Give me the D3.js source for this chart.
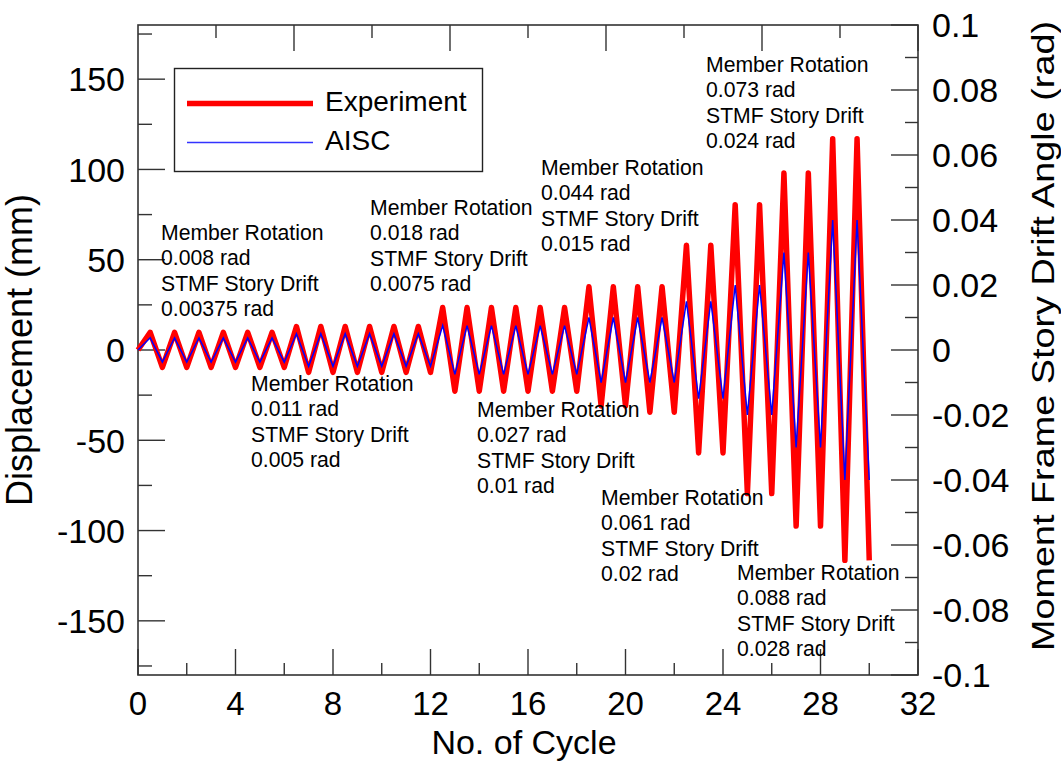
<!DOCTYPE html>
<html>
<head>
<meta charset="utf-8">
<script src="https://cdn.jsdelivr.net/npm/d3@7"></script>
<style>
  html, body { margin: 0; padding: 0; background: #fff; }
  svg { display: block; }
  text { font-family: "Liberation Sans", Arial, sans-serif; fill: #000; }
</style>
</head>
<body>
<svg id="chart" width="1061" height="768"></svg>
<script>
// ---- data ----
const cycles = [1,2,3,4,5,6,7,8,9,10,11,12,13,14,15,16,17,18,19,20,21,22,23,24,25,26,27,28,29,30];
const expPeak   = [9.8,9.8,9.8,9.8,9.8,9.8, 13,13,13,13,13,13, 23.5,23.5,23.5,23.5,23.5,23.5, 35,35,35,35, 58,58, 80.5,80.5, 98,98, 117,117];
const expTrough = [-9.6,-9.6,-9.6,-9.6,-9.6,-9.6, -12.4,-12.4,-12.4,-12.4,-12.4,-12.4, -22.8,-22.8,-22.8,-22.8,-22.8,-22.8, -31,-31,-34.5,-34.5, -57,-57, -79.5,-79.5, -97.5,-97.5, -116.5,-116.5];
const aiscPeak   = [6.75,6.75,6.75,6.75,6.75,6.75, 9,9,9,9,9,9, 13.5,13.5,13.5,13.5,13.5,13.5, 18,18,18,18, 27,27, 36,36, 54,54, 72,72];
const aiscTrough = [-6.75,-6.75,-6.75,-6.75,-6.75,-6.75, -9,-9,-9,-9,-9,-9, -13.5,-13.5,-13.5,-13.5,-13.5,-13.5, -18,-18,-18,-18, -27,-27, -36,-36, -54,-54, -72,-72];

const xTicks = [0,4,8,12,16,20,24,28,32];
const xMinorTicks = [2,6,10,14,18,22,26,30];
const yTicks = [-150,-100,-50,0,50,100,150];
const yMinorTicks = [-175,-125,-75,-25,25,75,125,175];
const rTicks = [-0.1,-0.08,-0.06,-0.04,-0.02,0,0.02,0.04,0.06,0.08,0.1];
const rTickLabels = ["-0.1","-0.08","-0.06","-0.04","-0.02","0","0.02","0.04","0.06","0.08","0.1"];
const rMinorTicks = [-0.09,-0.07,-0.05,-0.03,-0.01,0.01,0.03,0.05,0.07,0.09];
const topTicks = [2,4,6,8,10];
const topMinorTicks = [1,3,5,7,9];

const seriesNames = ["Experiment", "AISC"];
const annotations = [
  { lines: ["Member Rotation","0.008 rad","STMF Story Drift","0.00375 rad"], x: 161, y: 240 },
  { lines: ["Member Rotation","0.011 rad","STMF Story Drift","0.005 rad"], x: 251, y: 391 },
  { lines: ["Member Rotation","0.018 rad","STMF Story Drift","0.0075 rad"], x: 370, y: 215 },
  { lines: ["Member Rotation","0.027 rad","STMF Story Drift","0.01 rad"], x: 477, y: 417 },
  { lines: ["Member Rotation","0.044 rad","STMF Story Drift","0.015 rad"], x: 541, y: 175 },
  { lines: ["Member Rotation","0.061 rad","STMF Story Drift","0.02 rad"], x: 601, y: 505 },
  { lines: ["Member Rotation","0.073 rad","STMF Story Drift","0.024 rad"], x: 706, y: 72 },
  { lines: ["Member Rotation","0.088 rad","STMF Story Drift","0.028 rad"], x: 737, y: 580 }
];

// ---- layout ----
const L = 138, R = 918, T = 25, B = 675;
const svg = d3.select("#chart");

const x = d3.scaleLinear().domain([0, 32]).range([L, R]);
const y = d3.scaleLinear().domain([-180, 180]).range([B, T]);
const yR = d3.scaleLinear().domain([-0.1, 0.1]).range([B, T]);
const xTop = d3.scaleLinear().domain([0, 10]).range([L, R]);

function buildPts(peaks, troughs) {
  const pts = [[0, 0]];
  cycles.forEach((c, i) => {
    pts.push([c - 0.5, peaks[i]]);
    pts.push([c, troughs[i]]);
  });
  return pts;
}
const expPts = buildPts(expPeak, expTrough);
const aiscPts = buildPts(aiscPeak, aiscTrough);

const line = d3.line().x(d => x(d[0])).y(d => y(d[1]));

const tickColor = "#333";
// frame
svg.append("rect").attr("x", L).attr("y", T).attr("width", R - L).attr("height", B - T)
  .attr("fill", "none").attr("stroke", tickColor).attr("stroke-width", 1.6);

// ticks
const g = svg.append("g").attr("stroke", tickColor).attr("stroke-width", 1.4);
xTicks.forEach(v => g.append("line").attr("x1", x(v)).attr("x2", x(v)).attr("y1", B).attr("y2", B - 26));
xMinorTicks.forEach(v => g.append("line").attr("x1", x(v)).attr("x2", x(v)).attr("y1", B).attr("y2", B - 12));
topTicks.forEach(v => g.append("line").attr("x1", xTop(v)).attr("x2", xTop(v)).attr("y1", T).attr("y2", T + 26));
topMinorTicks.forEach(v => g.append("line").attr("x1", xTop(v)).attr("x2", xTop(v)).attr("y1", T).attr("y2", T + 13));
yTicks.forEach(v => g.append("line").attr("x1", L).attr("x2", L + 27).attr("y1", y(v)).attr("y2", y(v)));
yMinorTicks.forEach(v => g.append("line").attr("x1", L).attr("x2", L + 14).attr("y1", y(v)).attr("y2", y(v)));
rTicks.forEach(v => g.append("line").attr("x1", R).attr("x2", R - 27).attr("y1", yR(v)).attr("y2", yR(v)));
rMinorTicks.forEach(v => g.append("line").attr("x1", R).attr("x2", R - 13).attr("y1", yR(v)).attr("y2", yR(v)));

// tick labels
xTicks.forEach(v => svg.append("text").attr("x", x(v)).attr("y", 715)
  .attr("text-anchor", "middle").attr("font-size", 33).text(String(v)));
yTicks.forEach(v => svg.append("text").attr("x", 125).attr("y", y(v)).attr("dy", "0.36em")
  .attr("text-anchor", "end").attr("font-size", 34).text(String(v)));
rTicks.forEach((v, i) => svg.append("text").attr("x", 932).attr("y", yR(v)).attr("dy", "0.36em")
  .attr("text-anchor", "start").attr("font-size", 34).text(rTickLabels[i]));

// axis titles
svg.append("text").attr("x", 524).attr("y", 754).attr("text-anchor", "middle")
  .attr("font-size", 34).text("No. of Cycle");
svg.append("text").attr("transform", "translate(32,350) rotate(-90)").attr("text-anchor", "middle")
  .attr("font-size", 36).text("Displacement (mm)");
svg.append("text").attr("transform", "translate(1054,336) rotate(-90)").attr("text-anchor", "middle")
  .attr("font-size", 32).attr("textLength", 630).attr("lengthAdjust", "spacingAndGlyphs")
  .text("Moment Frame Story Drift Angle (rad)");

// series
svg.append("path").datum(expPts).attr("d", line).attr("fill", "none")
  .attr("stroke", "#ff0000").attr("stroke-width", 5.5).attr("stroke-linejoin", "round");
svg.append("path").datum(aiscPts).attr("d", line).attr("fill", "none")
  .attr("stroke", "#0000ff").attr("stroke-width", 1.5).attr("stroke-linejoin", "miter");

// annotations
annotations.forEach(a => {
  const t = svg.append("text").attr("font-size", 21.2);
  a.lines.forEach((s, i) => t.append("tspan").attr("x", a.x).attr("y", a.y + i * 25.3).text(s));
});

// legend
svg.append("rect").attr("x", 174.5).attr("y", 68.5).attr("width", 308).attr("height", 103)
  .attr("fill", "#fff").attr("stroke", "#222").attr("stroke-width", 1.4);
svg.append("line").attr("x1", 187).attr("x2", 313).attr("y1", 103.5).attr("y2", 103.5)
  .attr("stroke", "#ff0000").attr("stroke-width", 5.5);
svg.append("line").attr("x1", 187).attr("x2", 313).attr("y1", 142.5).attr("y2", 142.5)
  .attr("stroke", "#3333ff").attr("stroke-width", 1.3);
svg.append("text").attr("x", 325).attr("y", 111).attr("font-size", 28).text(seriesNames[0]);
svg.append("text").attr("x", 325).attr("y", 150).attr("font-size", 28).text(seriesNames[1]);
</script>
</body>
</html>
